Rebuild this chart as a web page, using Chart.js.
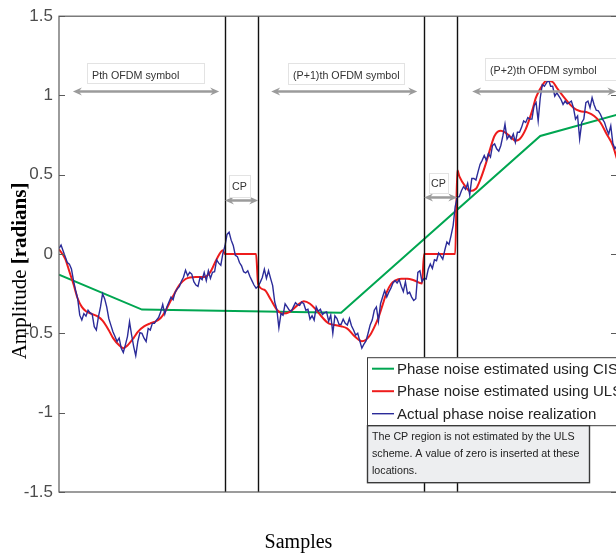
<!DOCTYPE html>
<html>
<head>
<meta charset="utf-8">
<title>Phase noise estimation</title>
<script src="https://cdn.jsdelivr.net/npm/chart.js@4.4.0/dist/chart.umd.min.js"></script>
<style>
  html, body { margin: 0; padding: 0; background: #fff; overflow: hidden; }
  canvas { display: block; }
</style>
</head>
<body>
<canvas id="phaseChart" width="640" height="556"></canvas>
<script>
// sample axis: 80 samples per OFDM symbol, 16 samples of cyclic prefix
const sampleMax = 269;
const cpEdges = [80, 96, 176, 192];

// CIS estimate (one value per symbol centre, straight lines between)
const cisSamples = [0, 40, 136, 232, 272];
const cisPhase = [-0.13, -0.35, -0.37, 0.745, 0.89];

// ULS estimate, zero inside the CP
const ulsSamples = [
  0, 3, 5, 7, 9, 11, 13, 16, 19, 21, 24, 26, 29, 31, 33, 36, 38, 41, 44, 46, 49, 51, 54, 56, 58, 61, 63, 66, 70, 73, 76, 79,
  80, 95,
  96, 99, 102, 105, 108, 111, 115, 118, 121, 124, 127, 130, 133, 136, 139, 142, 144, 146, 148, 150, 152, 154, 156, 158, 160, 162, 165, 168, 171, 175,
  176, 191,
  192, 193, 196, 198, 201, 203, 206, 208, 210, 213, 215, 218, 220, 222, 225, 228, 230, 233, 235, 238, 240, 243, 245, 248, 251, 255, 258, 261, 264, 267, 269, 271
];
const ulsPhase = [
  0.03, -0.03, -0.11, -0.19, -0.28, -0.333, -0.36, -0.378, -0.396, -0.42, -0.48, -0.528, -0.575, -0.593, -0.576, -0.528,
  -0.49, -0.456, -0.437, -0.428, -0.403, -0.366, -0.29, -0.24, -0.195, -0.157, -0.147, -0.145, -0.145, -0.112, -0.032, 0.025,
  0, 0,
  -0.19, -0.225, -0.285, -0.35, -0.375, -0.366, -0.322, -0.297, -0.313, -0.352, -0.4, -0.437, -0.447, -0.455, -0.47,
  -0.512, -0.535, -0.55, -0.54, -0.51, -0.46, -0.4, -0.32, -0.24, -0.19, -0.167, -0.155, -0.155, -0.165, -0.185,
  0, 0,
  0.53, 0.49, 0.425, 0.398, 0.412, 0.466, 0.58, 0.67, 0.746, 0.777, 0.767, 0.736, 0.715, 0.724, 0.788, 0.9,
  0.99, 1.064, 1.093, 1.085, 1.048, 0.996, 0.964, 0.923, 0.902, 0.892, 0.871, 0.83, 0.757, 0.684, 0.6, 0.52
];

// actual phase noise, one value per sample starting at 0
const actualPhase = [
  0.036, 0.057, 0.020, -0.017, -0.053, -0.063, -0.094, -0.167, -0.229, -0.281,
  -0.385, -0.416, -0.375, -0.391, -0.354, -0.371, -0.379, -0.458, -0.479, -0.396,
  -0.333, -0.250, -0.281, -0.333, -0.406, -0.448, -0.489, -0.520, -0.551, -0.530,
  -0.593, -0.620, -0.572, -0.520, -0.427, -0.510, -0.583, -0.641, -0.551, -0.495,
  -0.500, -0.530, -0.551, -0.469, -0.479, -0.437, -0.437, -0.416, -0.400, -0.365,
  -0.317, -0.379, -0.333, -0.302, -0.271, -0.288, -0.240, -0.219, -0.205, -0.171,
  -0.146, -0.101, -0.136, -0.115, -0.126, -0.174, -0.195, -0.203, -0.147, -0.161,
  -0.115, -0.167, -0.105, -0.153, -0.115, -0.111, -0.036, -0.057, -0.070, 0.005,
  0.051, 0.124, 0.138, 0.088, 0.055, -0.007, -0.016, -0.053, -0.074, -0.111,
  -0.119, -0.105, -0.140, -0.167, -0.195, -0.215, -0.203, -0.178, -0.147, -0.095,
  -0.153, -0.105, -0.153, -0.199, -0.302, -0.348, -0.464, -0.375, -0.385, -0.313,
  -0.333, -0.354, -0.360, -0.333, -0.306, -0.319, -0.323, -0.302, -0.313, -0.354,
  -0.348, -0.410, -0.389, -0.416, -0.333, -0.360, -0.348, -0.381, -0.369, -0.364,
  -0.423, -0.385, -0.499, -0.389, -0.406, -0.443, -0.443, -0.410, -0.437, -0.447,
  -0.406, -0.452, -0.479, -0.510, -0.499, -0.547, -0.593, -0.568, -0.547, -0.499,
  -0.447, -0.416, -0.354, -0.333, -0.423, -0.313, -0.271, -0.230, -0.271, -0.240,
  -0.215, -0.182, -0.167, -0.182, -0.161, -0.203, -0.236, -0.174, -0.250, -0.240,
  -0.271, -0.292, -0.281, -0.115, -0.105, -0.174, -0.153, -0.157, -0.095, -0.063,
  -0.090, -0.036, -0.042, 0.006, -0.011, -0.032, 0.026, 0.076, 0.061, 0.117,
  0.180, 0.300, 0.360, 0.362, 0.400, 0.425, 0.408, 0.446, 0.373, 0.477,
  0.477, 0.467, 0.518, 0.566, 0.591, 0.622, 0.591, 0.633, 0.612, 0.685,
  0.695, 0.664, 0.649, 0.685, 0.747, 0.819, 0.726, 0.747, 0.726, 0.757,
  0.705, 0.768, 0.768, 0.799, 0.840, 0.830, 0.861, 0.851, 0.851, 0.934,
  0.955, 0.840, 0.986, 1.068, 1.058, 1.079, 1.100, 1.058, 1.058, 0.996,
  1.017, 0.996, 0.975, 0.944, 0.965, 0.948, 0.955, 0.965, 0.923, 0.851,
  0.871, 0.726, 0.830, 0.851, 0.955, 0.965, 0.923, 0.986, 0.940, 0.907,
  0.903, 0.882, 0.851, 0.830, 0.788, 0.757, 0.809, 0.699, 0.664, 0.685
];

const seriesLabels = [
  'Phase noise estimated using CIS',
  'Phase noise estimated using ULS',
  'Actual phase noise realization'
];
const noteLines = [
  'The CP region is not estimated by the ULS',
  'scheme. A value of zero is inserted at these',
  'locations.'
];

// arrows over each symbol and each CP
const symbolSpans = [
  { text: 'Pth OFDM symbol', from: 6.7, to: 77.2, arrowAt: 1.026, boxAt: 13.5, boxTop: 1.207, boxW: 117, boxH: 20 },
  { text: '(P+1)th OFDM symbol', from: 102.3, to: 172.7, arrowAt: 1.026, boxAt: 110.4, boxTop: 1.207, boxW: 116, boxH: 21 },
  { text: '(P+2)th OFDM symbol', from: 199.2, to: 268.7, arrowAt: 1.026, boxAt: 205.4, boxTop: 1.238, boxW: 140, boxH: 22 }
];
const cpSpans = [
  { text: 'CP', from: 80, to: 96, arrowAt: 0.338, boxAt: 82.1, boxTop: 0.496, boxW: 21, boxH: 22 },
  { text: 'CP', from: 176, to: 192, arrowAt: 0.357, boxAt: 178.5, boxTop: 0.513, boxW: 19, boxH: 20 }
];

const SANS = '"Liberation Sans", Arial, sans-serif';
const SERIF = '"Liberation Serif", "Times New Roman", serif';

function doubleArrow(ctx, x1, x2, y) {
  const head = 9, half = 4;
  ctx.strokeStyle = '#9b9b9b';
  ctx.fillStyle = '#9b9b9b';
  ctx.lineWidth = 2.5;
  ctx.beginPath();
  ctx.moveTo(x1 + 5, y);
  ctx.lineTo(x2 - 5, y);
  ctx.stroke();
  [[x1, 1], [x2, -1]].forEach(([tip, dir]) => {
    ctx.beginPath();
    ctx.moveTo(tip, y);
    ctx.lineTo(tip + dir * head, y - half);
    ctx.lineTo(tip + dir * (head - 3), y);
    ctx.lineTo(tip + dir * head, y + half);
    ctx.closePath();
    ctx.fill();
  });
}

function labelBox(ctx, text, left, top, w, h, centered) {
  ctx.fillStyle = '#fff';
  ctx.fillRect(left, top, w, h);
  ctx.strokeStyle = '#e3e3e3';
  ctx.lineWidth = 1;
  ctx.strokeRect(left + 0.5, top + 0.5, w, h);
  ctx.fillStyle = '#333';
  ctx.font = '10.7px ' + SANS;
  ctx.textBaseline = 'alphabetic';
  if (centered) {
    ctx.textAlign = 'center';
    ctx.fillText(text, left + w / 2, top + h / 2 + 4);
  } else {
    ctx.textAlign = 'left';
    ctx.fillText(text, left + 5, top + 16.3);
  }
}

const decorations = {
  id: 'decorations',
  afterDatasetsDraw(chart) {
    const { ctx, chartArea: a, scales: { x, y } } = chart;
    ctx.save();

    // CP boundaries
    ctx.strokeStyle = '#111';
    ctx.lineWidth = 1.4;
    cpEdges.forEach(s => {
      const px = Math.round(x.getPixelForValue(s)) + 0.5;
      ctx.beginPath();
      ctx.moveTo(px, a.top);
      ctx.lineTo(px, a.bottom);
      ctx.stroke();
    });

    // axes box and inward ticks
    ctx.strokeStyle = '#5a5a5a';
    ctx.lineWidth = 1.2;
    ctx.strokeRect(a.left, a.top, a.right - a.left, a.bottom - a.top);
    ctx.lineWidth = 1;
    y.ticks.forEach(t => {
      const py = Math.round(y.getPixelForValue(t.value)) + 0.5;
      ctx.beginPath();
      ctx.moveTo(a.left, py); ctx.lineTo(a.left + 6, py);
      ctx.moveTo(a.right - 6, py); ctx.lineTo(a.right, py);
      ctx.stroke();
    });

    // symbol and CP annotations
    symbolSpans.concat(cpSpans).forEach(sp => {
      doubleArrow(ctx, x.getPixelForValue(sp.from), x.getPixelForValue(sp.to), y.getPixelForValue(sp.arrowAt));
      labelBox(ctx, sp.text, Math.round(x.getPixelForValue(sp.boxAt)), Math.round(y.getPixelForValue(sp.boxTop)),
        sp.boxW, sp.boxH, sp.text === 'CP');
    });

    // legend
    const lx = a.left + 308, ly = a.top + 341;
    ctx.fillStyle = '#fff';
    ctx.fillRect(lx, ly, 300, 68);
    ctx.strokeStyle = '#3a3a3a';
    ctx.lineWidth = 1;
    ctx.strokeRect(lx + 0.5, ly + 0.5, 300, 68);
    ctx.font = '15px ' + SANS;
    ctx.textAlign = 'left';
    ctx.textBaseline = 'middle';
    chart.data.datasets.forEach((ds, i) => {
      const ey = ly + 11.5 + i * 22.5;
      ctx.strokeStyle = ds.borderColor;
      ctx.lineWidth = ds.borderWidth;
      ctx.beginPath();
      ctx.moveTo(lx + 5, ey);
      ctx.lineTo(lx + 27, ey);
      ctx.stroke();
      ctx.fillStyle = '#222';
      ctx.fillText(ds.label, lx + 30, ey + 1);
    });

    // note under the legend
    const nx = lx, ny = ly + 68;
    ctx.fillStyle = '#edeef0';
    ctx.fillRect(nx, ny, 222, 57);
    ctx.strokeStyle = '#3a3a3a';
    ctx.strokeRect(nx + 0.5, ny + 0.5, 222, 57);
    ctx.fillStyle = '#222';
    ctx.font = '10.7px ' + SANS;
    noteLines.forEach((line, i) => ctx.fillText(line, nx + 5, ny + 12 + i * 16.7));

    // axis titles
    ctx.fillStyle = '#000';
    ctx.textBaseline = 'alphabetic';
    ctx.font = '20px ' + SERIF;
    ctx.textAlign = 'center';
    ctx.fillText('Samples', 298.5, 548);

    ctx.translate(25.5, 271);
    ctx.rotate(-Math.PI / 2);
    const part1 = 'Amplitude ';
    const part2 = '[radians]';
    ctx.font = '21px ' + SERIF;
    const w1 = ctx.measureText(part1).width;
    ctx.font = 'bold 21px ' + SERIF;
    const w2 = ctx.measureText(part2).width;
    ctx.textAlign = 'left';
    ctx.font = '21px ' + SERIF;
    ctx.fillText(part1, -(w1 + w2) / 2, 0);
    ctx.font = 'bold 21px ' + SERIF;
    ctx.fillText(part2, -(w1 + w2) / 2 + w1, 0);

    ctx.restore();
  }
};

const ctx = document.getElementById('phaseChart').getContext('2d');

new Chart(ctx, {
  type: 'line',
  data: {
    datasets: [
      {
        label: seriesLabels[0],
        data: cisSamples.map((s, i) => ({ x: s, y: cisPhase[i] })),
        borderColor: '#00a651',
        borderWidth: 2,
        pointRadius: 0,
        tension: 0,
        order: 2
      },
      {
        label: seriesLabels[1],
        data: ulsSamples.map((s, i) => ({ x: s, y: ulsPhase[i] })),
        borderColor: '#ee1c1c',
        borderWidth: 2,
        pointRadius: 0,
        cubicInterpolationMode: 'monotone',
        order: 1
      },
      {
        label: seriesLabels[2],
        data: actualPhase.map((v, i) => ({ x: i, y: v })),
        borderColor: '#2b2b99',
        borderWidth: 1.4,
        pointRadius: 0,
        tension: 0,
        order: 0
      }
    ]
  },
  options: {
    responsive: false,
    animation: false,
    devicePixelRatio: 1,
    layout: { padding: { top: 11, right: 23, bottom: 0, left: 0 } },
    plugins: {
      legend: { display: false },
      tooltip: { enabled: false }
    },
    scales: {
      x: {
        type: 'linear',
        min: 0,
        max: sampleMax,
        ticks: { display: false },
        grid: { display: false, drawTicks: false },
        border: { display: false },
        afterFit: s => { s.height = 64; }
      },
      y: {
        min: -1.5,
        max: 1.5,
        ticks: {
          stepSize: 0.5,
          padding: 6,
          color: '#4d4d4d',
          font: { family: SANS, size: 17 },
          callback: v => String(Math.round(v * 10) / 10)
        },
        grid: { display: false, drawTicks: false },
        border: { display: false },
        afterFit: s => { s.width = 59; }
      }
    }
  },
  plugins: [decorations]
});
</script>
</body>
</html>
